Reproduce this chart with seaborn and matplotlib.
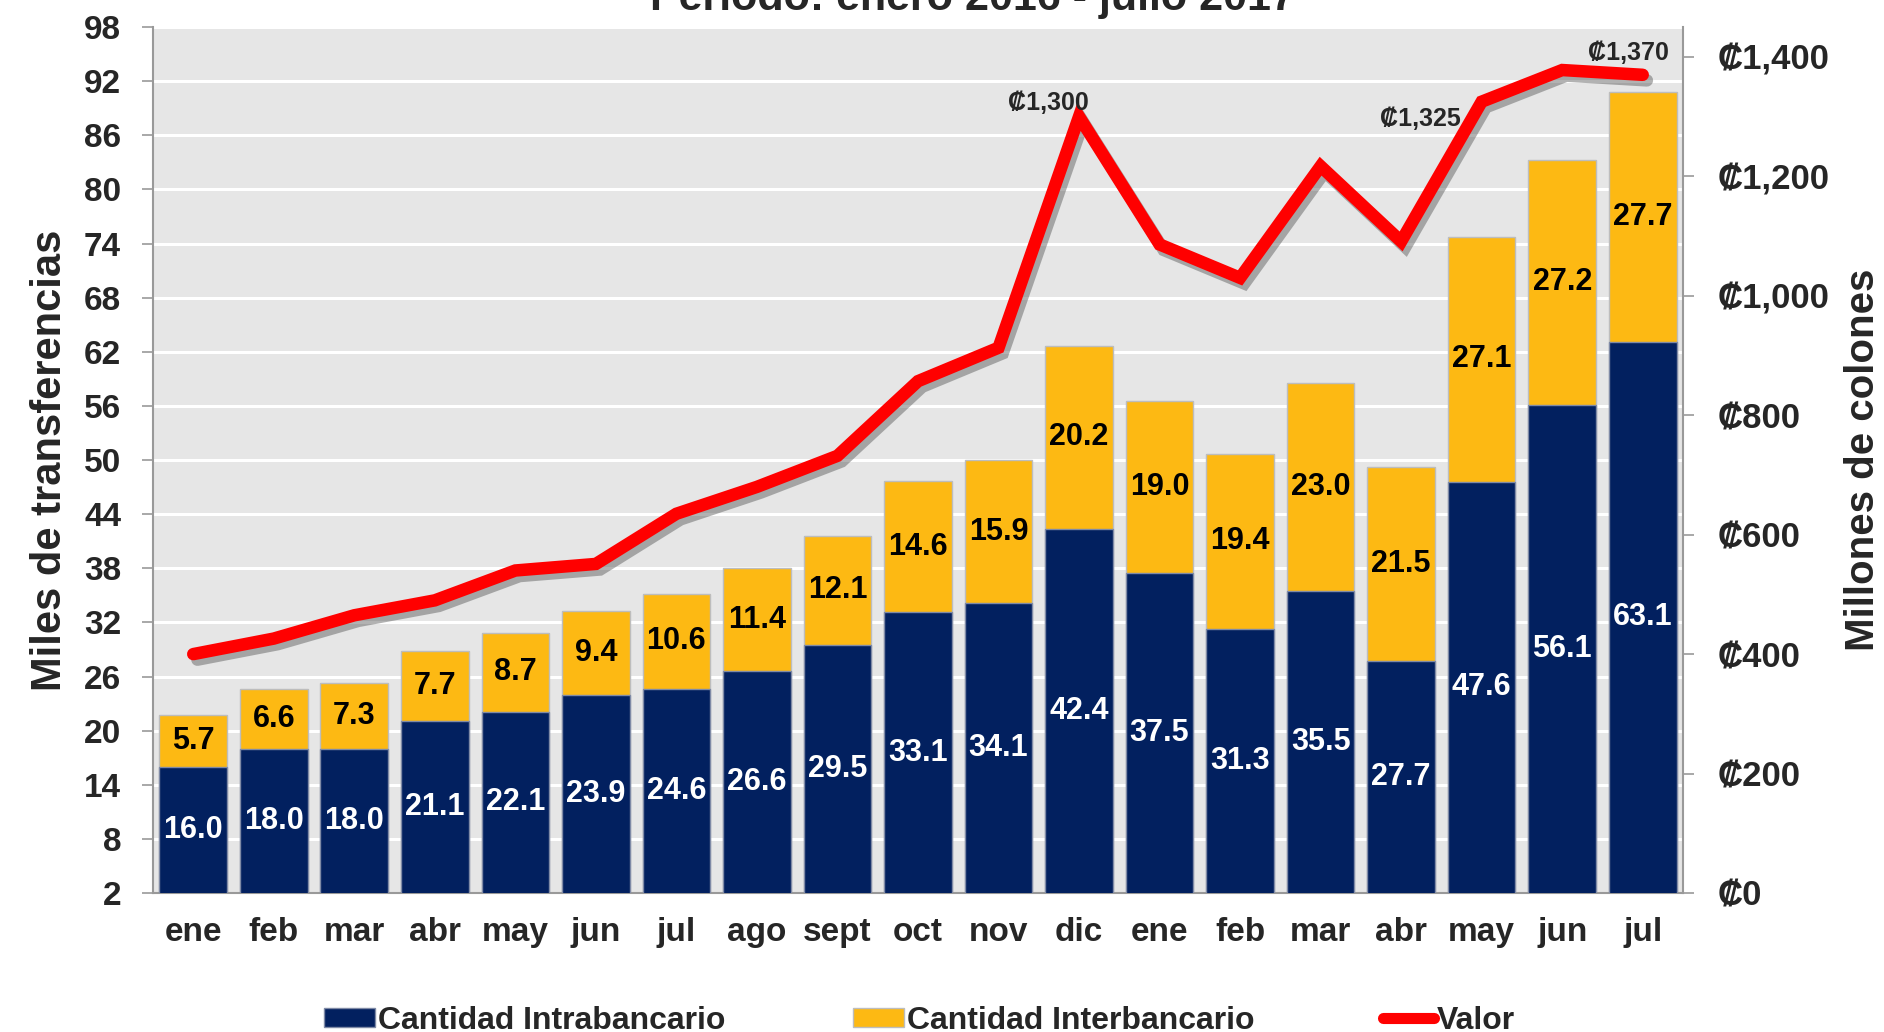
import numpy as np
import pandas as pd
import matplotlib.pyplot as plt
import matplotlib.patheffects as pe
from matplotlib.patches import Patch
from matplotlib.lines import Line2D
import seaborn as sns

# Datos
meses = ['ene', 'feb', 'mar', 'abr', 'may', 'jun', 'jul', 'ago', 'sept', 'oct', 'nov', 'dic',
         'ene', 'feb', 'mar', 'abr', 'may', 'jun', 'jul']
anios = [2016] * 12 + [2017] * 7
intrabancario = [16.0, 18.0, 18.0, 21.1, 22.1, 23.9, 24.6, 26.6, 29.5, 33.1, 34.1, 42.4,
                 37.5, 31.3, 35.5, 27.7, 47.6, 56.1, 63.1]
interbancario = [5.7, 6.6, 7.3, 7.7, 8.7, 9.4, 10.6, 11.4, 12.1, 14.6, 15.9, 20.2,
                 19.0, 19.4, 23.0, 21.5, 27.1, 27.2, 27.7]
valor = [400, 426, 465, 490, 540, 551, 635, 680, 732, 857, 913, 1300,
         1086, 1030, 1217, 1091, 1325, 1378, 1370]
etiquetas_valor = {11: (-22, 1), 16: (-44, -21), 18: (-10, 7)}  # indice: desplazamiento en pt

NAVY = '#02205F'
AMARILLO = '#FDB913'
ROJO = '#FF0000'

data = pd.DataFrame({'mes': meses, 'anio': anios, 'intra': intrabancario, 'inter': interbancario, 'valor': valor})
data['clave'] = data['mes'] + '-' + data['anio'].astype(str)
data['total'] = data['intra'] + data['inter']
data['pos'] = np.arange(len(data))

sns.set_style('white')
plt.rcParams['font.family'] = ['Liberation Sans', 'DejaVu Sans']
plt.rcParams['font.weight'] = 'bold'

fig = plt.figure(figsize=(18.84, 10.32), dpi=100)
ax = fig.add_axes([0.0812, 0.1347, 0.8121, 0.8391])
ax.set_facecolor('#E6E6E6')

# barras apiladas: primero el total (amarillo) y encima el intrabancario (azul)
sns.barplot(data=data, x='clave', y='total', order=data['clave'], color=AMARILLO, saturation=1,
            width=0.84, edgecolor='#BDBDBD', linewidth=1, ax=ax, zorder=2)
sns.barplot(data=data, x='clave', y='intra', order=data['clave'], color=NAVY, saturation=1,
            width=0.84, edgecolor='#7F8AA6', linewidth=1, ax=ax, zorder=3)

ax.set_ylim(2, 98)
ax.set_xlim(-0.5, len(data) - 0.5)
ax.set_yticks(np.arange(2, 99, 6))
ax.yaxis.grid(True, color='white', linewidth=2.2, zorder=0)
ax.set_axisbelow(True)
ax.set_xticks(data['pos'])
ax.set_xticklabels(data['mes'], fontsize=24, fontweight='bold')
ax.set_xticks(np.arange(-0.5, len(data)), minor=True)
ax.tick_params(axis='x', which='major', length=0, pad=17)
ax.tick_params(axis='x', which='minor', length=8, width=1.2, color='#999999', direction='out')
ax.tick_params(axis='y', length=8, width=1.2, color='#999999', pad=15, labelsize=24)
for t in ax.get_yticklabels():
    t.set_fontweight('bold')
ax.set_xlabel('')
ax.set_ylabel('Miles de transferencias', fontsize=30, fontweight='bold', labelpad=10)

for s in ['left', 'bottom']:
    ax.spines[s].set_color('#999999')
    ax.spines[s].set_linewidth(1.5)
ax.spines['top'].set_visible(False)
ax.spines['right'].set_visible(False)

# etiquetas de las barras
for i, r in data.iterrows():
    ax.text(r['pos'], (2 + r['intra']) / 2, f"{r['intra']:.1f}", color='white', fontsize=22,
            fontweight='bold', ha='center', va='center', zorder=5)
    ax.text(r['pos'], r['intra'] + r['inter'] / 2, f"{r['inter']:.1f}", color='black', fontsize=22,
            fontweight='bold', ha='center', va='center', zorder=5)

# linea de valor en el eje derecho
ax2 = ax.twinx()
sns.lineplot(x=data['pos'], y=data['valor'], color=ROJO, linewidth=9, ax=ax2,
             solid_capstyle='round', solid_joinstyle='miter',
             path_effects=[pe.SimpleLineShadow(offset=(3, -4), shadow_color='#555555', alpha=0.45), pe.Normal()])
ax2.set_ylim(0, 1450)
ax2.set_yticks(np.arange(0, 1401, 200))
ax2.set_yticklabels([f'₡{v:,}' for v in np.arange(0, 1401, 200)], fontsize=25, fontweight='bold')
ax2.tick_params(axis='y', length=8, width=1.2, color='#999999', pad=17)
ax2.set_ylabel('Millones de colones', fontsize=29, fontweight='bold', labelpad=10)
ax2.set_xlabel('')
for s in ['left', 'top', 'bottom']:
    ax2.spines[s].set_visible(False)
ax2.spines['right'].set_color('#999999')
ax2.spines['right'].set_linewidth(1.5)

for i, (dx, dy) in etiquetas_valor.items():
    ax2.annotate(f'₡{valor[i]:,}', (data['pos'][i], valor[i]), xytext=(dx, dy), textcoords='offset points',
                 fontsize=18, fontweight='bold', ha='center', va='bottom')

# titulo cortado arriba como en el original
fig.text(0.516, 1 - 10 / 1032, 'Periodo: enero 2016 - julio 2017', fontsize=31, fontweight='bold',
         ha='center', va='baseline')

handles = [Patch(facecolor=NAVY, edgecolor='#7F8AA6'),
           Patch(facecolor=AMARILLO, edgecolor='#BDBDBD'),
           Line2D([0], [0], color=ROJO, linewidth=8, solid_capstyle='round')]
fig.legend(handles, ['Cantidad Intrabancario', 'Cantidad Interbancario', 'Valor'], loc='center',
           bbox_to_anchor=(0.488, 0.011), ncol=3, frameon=False, handlelength=1.6,
           handleheight=0.55, handletextpad=0.1, columnspacing=4,
           prop={'weight': 'bold', 'size': 23})

fig.savefig('out.png', dpi=100)
